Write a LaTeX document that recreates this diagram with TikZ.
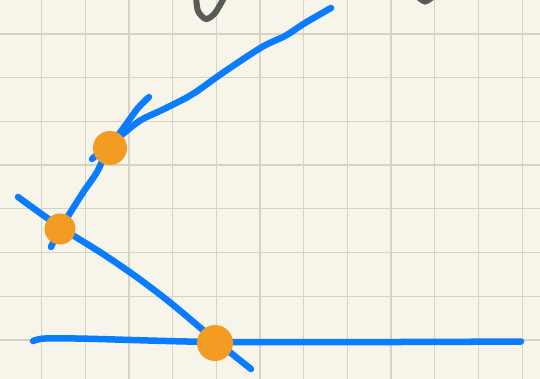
\documentclass[tikz,border=0pt]{standalone}
\usepackage{tikz}
\usetikzlibrary{positioning}
\definecolor{paper}{RGB}{247,245,233}
\definecolor{gridline}{RGB}{214,211,198}
\definecolor{penblue}{RGB}{10,124,255}
\definecolor{penorange}{RGB}{243,156,36}
\definecolor{pengray}{RGB}{90,90,90}

\begin{document}
\begin{tikzpicture}[x=1pt,y=-1pt,
  pen/.style={penblue, line width=6.5pt, line cap=round, line join=round},
  dot/.style={circle, fill=penorange, inner sep=0pt, minimum size=#1}]
  % Paper and grid
  \fill[paper] (0,0) rectangle (540,379);
  \useasboundingbox (0,0) rectangle (540,379);
  \clip (0,0) rectangle (540,379);
  \foreach \k in {0,1,...,11} {
    \draw[gridline, line width=1.3pt] (41.5+43.7*\k,0) -- (41.5+43.7*\k,379);
  }
  \foreach \k in {0,1,...,7} {
    \draw[gridline, line width=1.3pt] (0,34+43.7*\k) -- (540,34+43.7*\k);
  }

  % Scribbles at the top
  \draw[pengray, line width=6pt, line cap=round] plot[smooth] coordinates {(196,-4) (198,11) (206,19) (215,13) (225,-4)};
  \draw[pengray, line width=6pt, line cap=round] plot[smooth] coordinates {(416,-5) (425,1.5) (435,-5)};

  % Bottom line
  \draw[pen] plot[smooth] coordinates {(33,341) (45,338.5) (86,338.7) (216,342) (400,342) (521,341.5)};

  % Falling line
  \draw[pen] plot[smooth, tension=0.5] coordinates {(18,197) (60,227) (103,254) (138,278) (172,304) (216,341) (251,369)};

  % Steep line
  \draw[pen] plot[smooth] coordinates {(51,247) (60,229) (70,213) (84,191) (97,172) (108,149) (122,130) (138,108) (149,97)};

  % Long curve from the top
  \draw[pen] plot[smooth] coordinates {(331,8) (305,23) (285,36) (262,47) (224,72) (196,92) (186,98) (162,110) (141,120) (124,133) (110,145) (99,153) (92,159)};

  % Intersection points
  \node[dot=34pt] (dotA) at (110,148) {};
  \node[dot=31pt] (dotB) at (60,229) {};
  \node[dot=36pt] (dotC) at (215,343) {};
\end{tikzpicture}
\end{document}
